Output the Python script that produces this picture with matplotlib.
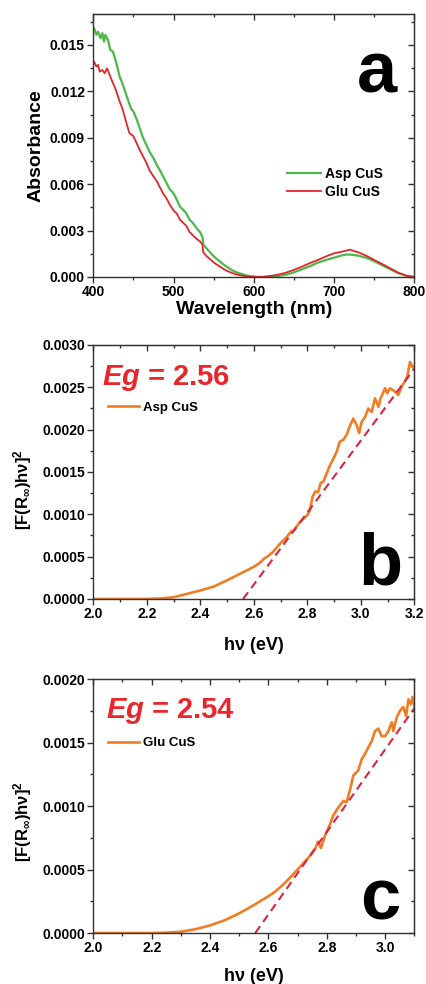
import matplotlib
matplotlib.use("Agg")
import matplotlib.pyplot as plt
from matplotlib.ticker import MultipleLocator, FormatStrFormatter

plt.rcParams['font.family'] = ['Liberation Sans', 'DejaVu Sans']
plt.rcParams['font.weight'] = 'bold'
plt.rcParams['mathtext.fontset'] = 'custom'
plt.rcParams['mathtext.rm'] = 'Liberation Sans:bold'
plt.rcParams['mathtext.bf'] = 'Liberation Sans:bold'
plt.rcParams['mathtext.it'] = 'Liberation Sans:italic:bold'

# ---------------- Panel a data ----------------
asp_wl = [400, 401, 403.8, 405.9, 408.8, 411.3, 413.4, 415, 418.3, 421.2, 424.5, 428.7, 432.9,
          437, 441.1, 445.4, 447.4, 450, 454, 458, 462, 466, 470, 475, 479, 483, 487, 491, 495,
          500, 504, 508, 512, 516, 520, 524, 528, 533, 536, 537, 541, 545, 549, 553, 558, 562,
          566, 570, 574, 578, 583, 587, 591, 595, 600, 605, 610, 620, 630, 640, 650, 660, 670,
          680, 690, 700, 710, 715, 720, 730, 740, 750, 760, 770, 780, 790, 800]
asp_abs = [0.0160, 0.01608, 0.01565, 0.01586, 0.01543, 0.01576, 0.01521, 0.01565, 0.01532,
           0.01468, 0.01457, 0.01382, 0.01295, 0.01241, 0.01177, 0.01112, 0.01084, 0.0107,
           0.0102, 0.0096, 0.0090, 0.00855, 0.0081, 0.00768, 0.00725, 0.0069, 0.0065, 0.0061,
           0.0057, 0.0054, 0.0050, 0.00455, 0.00434, 0.0041, 0.0037, 0.0035, 0.0032, 0.0029,
           0.0026, 0.0021, 0.00186, 0.00163, 0.0014, 0.0012, 0.00099, 0.00082, 0.00067,
           0.00053, 0.00041, 0.00031, 0.00023, 0.00016, 0.0001, 0.00006, 0.00003, 0.00001,
           0.0, 0.00002, 0.00007, 0.00015, 0.0003, 0.0005, 0.0007, 0.00093, 0.0011, 0.00125,
           0.0014, 0.00145, 0.00145, 0.00138, 0.00125, 0.00102, 0.00076, 0.0005, 0.00025,
           0.00007, 0.0]

glu_wl = [400, 401, 403.8, 405.9, 408, 411.3, 414.2, 417.1, 420.4, 423.7, 426.6, 429.5, 432.9,
          436.2, 441, 445, 450, 454, 458, 462, 466, 470, 475, 479, 483, 487, 491, 495, 500,
          504, 508, 512, 516, 520, 524, 528, 533, 536, 537, 541, 545, 549, 553, 558, 562, 566,
          570, 574, 578, 583, 587, 591, 595, 600, 610, 620, 630, 640, 650, 660, 670, 680, 690,
          700, 705, 710, 715, 720, 722, 725, 730, 740, 750, 760, 770, 780, 790, 800]
glu_abs = [0.0138, 0.01392, 0.0136, 0.01371, 0.01327, 0.01338, 0.01317, 0.01349, 0.01306,
           0.01263, 0.0123, 0.01188, 0.01133, 0.0109, 0.0100, 0.0093, 0.0091, 0.00865,
           0.0082, 0.0078, 0.0074, 0.0069, 0.0065, 0.0062, 0.0058, 0.0054, 0.0051, 0.0047,
           0.0043, 0.0041, 0.0037, 0.0035, 0.0033, 0.0029, 0.0027, 0.0025, 0.0023, 0.0021,
           0.0016, 0.00136, 0.00118, 0.00099, 0.00083, 0.00067, 0.00053, 0.00041, 0.00032,
           0.00024, 0.00017, 0.00011, 0.00007, 0.00004, 0.00002, 0.0, 0.0, 0.00006, 0.00015,
           0.00028, 0.00046, 0.00067, 0.0009, 0.0011, 0.00133, 0.00153, 0.00158, 0.00164,
           0.0017, 0.00177, 0.00172, 0.00168, 0.0016, 0.00138, 0.0011, 0.00084, 0.00056,
           0.00028, 0.00009, 0.0]

# ---------------- Panel b data ----------------
asp_ev = [2.00, 2.10, 2.20, 2.25, 2.30, 2.35, 2.40, 2.45, 2.50, 2.55, 2.60, 2.62, 2.64, 2.65,
          2.67, 2.70, 2.72, 2.74, 2.75, 2.77, 2.80, 2.81, 2.82, 2.83, 2.84, 2.85, 2.86, 2.885,
          2.898, 2.91, 2.922, 2.935, 2.947, 2.96, 2.972, 2.985, 2.994, 3.003, 3.016, 3.028,
          3.041, 3.053, 3.066, 3.074, 3.091, 3.099, 3.109, 3.128, 3.14, 3.153, 3.165, 3.174,
          3.184, 3.194, 3.20]
asp_km = [0.0, 0.0, 0.0, 0.000005, 0.00002, 0.00006, 0.0001, 0.000146, 0.00022, 0.0003,
          0.00038, 0.00042, 0.00048, 0.0005, 0.00055, 0.00066, 0.00072, 0.0008, 0.00081,
          0.0009, 0.00099, 0.00105, 0.00121, 0.00127, 0.00126, 0.00137, 0.001386, 0.00158,
          0.00166, 0.00174, 0.00186, 0.00188, 0.00194, 0.00205, 0.00213, 0.00205, 0.00196,
          0.00209, 0.00215, 0.00225, 0.00221, 0.00237, 0.00227, 0.00237, 0.00249, 0.00243,
          0.00249, 0.00245, 0.00241, 0.00251, 0.00257, 0.00263, 0.0028, 0.00274, 0.00272]
asp_fit_x = [2.56, 3.20]
asp_fit_y = [0.0, 0.00272]

# ---------------- Panel c data ----------------
glu_ev = [2.00, 2.10, 2.20, 2.25, 2.30, 2.35, 2.40, 2.45, 2.50, 2.55, 2.60, 2.62, 2.65, 2.68,
          2.70, 2.72, 2.74, 2.75, 2.76, 2.77, 2.78, 2.79, 2.80, 2.81, 2.822, 2.84, 2.857,
          2.868, 2.88, 2.891, 2.908, 2.92, 2.931, 2.942, 2.954, 2.965, 2.977, 2.988, 3.0,
          3.011, 3.023, 3.028, 3.04, 3.051, 3.062, 3.072, 3.08, 3.088, 3.094, 3.10]
glu_km = [0.0, 0.0, 0.0, 0.000003, 0.00001, 0.00003, 0.00006, 0.0001, 0.000155, 0.00022,
          0.00029, 0.00032, 0.00038, 0.00045, 0.0005, 0.00055, 0.0006, 0.00063, 0.00066,
          0.00072, 0.00067, 0.00074, 0.0008, 0.00085, 0.000924, 0.00099, 0.00104, 0.00103,
          0.00113, 0.00124, 0.00128, 0.00137, 0.00141, 0.00146, 0.00151, 0.00159, 0.00161,
          0.00155, 0.00155, 0.00159, 0.00166, 0.00159, 0.0017, 0.00175, 0.00178, 0.00171,
          0.00184, 0.0018, 0.00186, 0.00179]
glu_fit_x = [2.555, 3.10]
glu_fit_y = [0.0, 0.00177]

GREEN = '#4cb848'
RED = '#e0262b'
ORANGE = '#f07d24'
DASH = '#d8263c'
EGRED = '#e8262b'
SPINE = '#333333'

fig = plt.figure(figsize=(4.26, 9.84), dpi=100)
ax_a = fig.add_axes([0.219, 0.7185, 0.7535, 0.2673])
ax_b = fig.add_axes([0.219, 0.3913, 0.7535, 0.2581])
ax_c = fig.add_axes([0.219, 0.0518, 0.7535, 0.2581])


def style(ax, xmaj, xmin, ymaj, ymin, yfmt, xfmt):
    for s in ax.spines.values():
        s.set_color(SPINE)
        s.set_linewidth(1.0)
    ax.xaxis.set_major_locator(MultipleLocator(xmaj))
    ax.xaxis.set_minor_locator(MultipleLocator(xmin))
    ax.yaxis.set_major_locator(MultipleLocator(ymaj))
    ax.yaxis.set_minor_locator(MultipleLocator(ymin))
    ax.yaxis.set_major_formatter(FormatStrFormatter(yfmt))
    ax.xaxis.set_major_formatter(FormatStrFormatter(xfmt))
    ax.tick_params(which='major', direction='out', length=4, width=1.0, color=SPINE,
                   labelsize=10, pad=2)
    ax.tick_params(which='minor', direction='out', length=2.5, width=1.0, color=SPINE)
    for lab in ax.get_xticklabels() + ax.get_yticklabels():
        lab.set_fontweight('bold')
    top = ax.secondary_xaxis('top')
    top.xaxis.set_major_locator(MultipleLocator(xmaj))
    top.xaxis.set_minor_locator(MultipleLocator(xmin))
    top.tick_params(which='major', direction='in', length=4, width=1.0, color=SPINE,
                    labeltop=False)
    top.tick_params(which='minor', direction='in', length=2.5, width=1.0, color=SPINE)
    top.spines['top'].set_color(SPINE)
    right = ax.secondary_yaxis('right')
    right.yaxis.set_major_locator(MultipleLocator(ymaj))
    right.yaxis.set_minor_locator(MultipleLocator(ymin))
    right.tick_params(which='major', direction='in', length=4, width=1.0, color=SPINE,
                      labelright=False)
    right.tick_params(which='minor', direction='in', length=2.5, width=1.0, color=SPINE)
    right.spines['right'].set_color(SPINE)


# ---- Panel a ----
ax_a.plot(asp_wl, asp_abs, color=GREEN, lw=1.6, label='Asp CuS')
ax_a.plot(glu_wl, glu_abs, color=RED, lw=1.3, label='Glu CuS')
ax_a.set_xlim(400, 800)
ax_a.set_ylim(0, 0.017)
style(ax_a, 100, 50, 0.003, 0.0015, '%.3f', '%d')
ax_a.set_xlabel('Wavelength (nm)', fontsize=14, fontweight='bold', labelpad=1)
ax_a.set_ylabel('Absorbance', fontsize=14, fontweight='bold', labelpad=4)
ax_a.legend(loc='center left', bbox_to_anchor=(0.605, 0.357), frameon=False,
            handlelength=2.4, handletextpad=0.3, labelspacing=0.3,
            borderpad=0, borderaxespad=0, prop={'weight': 'bold', 'size': 10})
ax_a.text(0.884, 0.70, 'a', transform=ax_a.transAxes, fontsize=52, fontweight='bold',
          ha='center', va='baseline')

# ---- Panel b ----
ax_b.plot(asp_ev, asp_km, color=ORANGE, lw=1.9, label='Asp CuS')
ax_b.plot(asp_fit_x, asp_fit_y, color=DASH, lw=1.5, dashes=(4, 2.5))
ax_b.set_xlim(2.0, 3.2)
ax_b.set_ylim(0, 0.003)
style(ax_b, 0.2, 0.1, 0.0005, 0.00025, '%.4f', '%.1f')
ax_b.set_xlabel('h\u03bd (eV)', fontsize=13, fontweight='bold', labelpad=11)
ax_b.set_ylabel('[F(R$_{\\infty}$)h\u03bd]$^{2}$', fontsize=12, fontweight='bold')
ax_b.yaxis.set_label_coords(-0.185, 0.43)
ax_b.legend(loc='center left', bbox_to_anchor=(0.045, 0.752), frameon=False,
            handlelength=2.4, handletextpad=0.3, borderpad=0, borderaxespad=0,
            prop={'weight': 'bold', 'size': 9.5})
ax_b.text(0.027, 0.843, '$Eg$ = 2.56', transform=ax_b.transAxes, fontsize=21,
          fontweight='bold', color=EGRED, ha='left', va='baseline')
ax_b.text(0.893, 0.055, 'b', transform=ax_b.transAxes, fontsize=52, fontweight='bold',
          ha='center', va='baseline')

# ---- Panel c ----
ax_c.plot(glu_ev, glu_km, color=ORANGE, lw=1.9, label='Glu CuS')
ax_c.plot(glu_fit_x, glu_fit_y, color=DASH, lw=1.5, dashes=(4, 2.5))
ax_c.set_xlim(2.0, 3.1)
ax_c.set_ylim(0, 0.002)
style(ax_c, 0.2, 0.1, 0.0005, 0.00025, '%.4f', '%.1f')
ax_c.set_xlabel('h\u03bd (eV)', fontsize=13, fontweight='bold', labelpad=9)
ax_c.set_ylabel('[F(R$_{\\infty}$)h\u03bd]$^{2}$', fontsize=12, fontweight='bold')
ax_c.yaxis.set_label_coords(-0.185, 0.44)
ax_c.legend(loc='center left', bbox_to_anchor=(0.045, 0.748), frameon=False,
            handlelength=2.4, handletextpad=0.3, borderpad=0, borderaxespad=0,
            prop={'weight': 'bold', 'size': 9.5})
ax_c.text(0.04, 0.846, '$Eg$ = 2.54', transform=ax_c.transAxes, fontsize=21,
          fontweight='bold', color=EGRED, ha='left', va='baseline')
ax_c.text(0.893, 0.055, 'c', transform=ax_c.transAxes, fontsize=52, fontweight='bold',
          ha='center', va='baseline')

fig.savefig('out.png', dpi=100)
